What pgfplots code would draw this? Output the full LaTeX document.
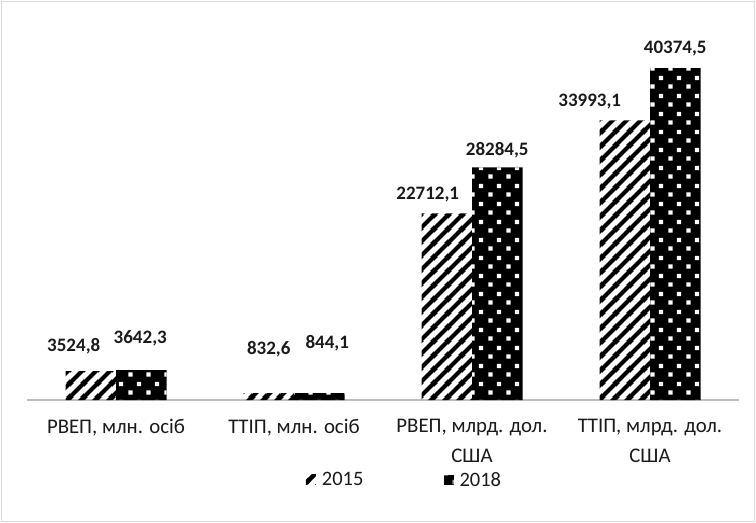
\documentclass[border=0pt]{standalone}
\usepackage{pgfplots}
\pgfplotsset{compat=1.18}
\usepackage{pgfplotstable}
\usepackage{fontspec}
\setmainfont{Carlito}
\usetikzlibrary{patterns}

\pgfdeclarepatternformonly{stripesA}{\pgfpointorigin}{\pgfqpoint{14bp}{14bp}}{\pgfqpoint{14bp}{14bp}}{%
  \pgfsetlinewidth{4.4bp}%
  \pgfpathmoveto{\pgfqpoint{-3bp}{-3bp}}\pgfpathlineto{\pgfqpoint{17bp}{17bp}}%
  \pgfpathmoveto{\pgfqpoint{-3bp}{11bp}}\pgfpathlineto{\pgfqpoint{3bp}{17bp}}%
  \pgfpathmoveto{\pgfqpoint{11bp}{-3bp}}\pgfpathlineto{\pgfqpoint{17bp}{3bp}}%
  \pgfusepath{stroke}}

\pgfdeclarepatternformonly{squaresB}{\pgfpointorigin}{\pgfqpoint{18bp}{18bp}}{\pgfqpoint{18bp}{18bp}}{%
  \pgfpathrectangle{\pgfqpoint{2.5bp}{2.5bp}}{\pgfqpoint{4.5bp}{4.5bp}}%
  \pgfpathrectangle{\pgfqpoint{11.5bp}{11.5bp}}{\pgfqpoint{4.5bp}{4.5bp}}%
  \pgfusepath{fill}}

\definecolor{framegray}{HTML}{D9D9D9}
\definecolor{axisgray}{HTML}{BFBFBF}
\definecolor{txt}{HTML}{1A1A1A}

\pgfplotstableread{
x y dx dy
0 3524.8 -17 25
1 832.6 0 44
2 22712.1 -19 19
3 33993.1 -35 19
}\dataA
\pgfplotstableread{
x y dx dy
0 3642.3 -1 32
1 844.1 8 50
2 28284.5 0 17
3 40374.5 0 19
}\dataB

\begin{document}
\begin{tikzpicture}
\path[use as bounding box] (0,0) rectangle (756bp,523bp);
\draw[framegray, line width=1.2bp] (1.5bp,1.5bp) rectangle (754.5bp,521.5bp);
\begin{axis}[
  at={(27bp,123bp)}, anchor=south west,
  width=712bp, height=370bp, scale only axis,
  xmin=-0.5, xmax=3.5, ymin=0, ymax=45000,
  ybar=0pt, bar width=50.5bp,
  axis x line*=bottom, axis y line=none,
  x axis line style={axisgray, line width=1.2bp, -},
  xtick=data,
  xticklabels={{РВЕП, млн. осіб},{ТТІП, млн. осіб},{РВЕП, млрд. дол.\\США},{ТТІП, млрд. дол.\\США}},
  major tick length=0pt,
  xticklabel style={font=\fontsize{20.8bp}{30bp}\selectfont, text=txt, align=center, anchor=north, yshift=-16bp},
  clip=false,
  /pgf/number format/.cd, use comma, 1000 sep={}, fixed, fixed zerofill, precision=1, assume math mode=true,
  /pgfplots/.cd,
  nodes near coords,
  visualization depends on={\thisrow{dx} \as \dx},
  visualization depends on={\thisrow{dy} \as \dy},
  nodes near coords style={font=\fontsize{19bp}{22bp}\selectfont\bfseries, text=txt, anchor=center, xshift=\dx bp, yshift=\dy bp, inner sep=0pt},
  legend style={at={(0.5288,-0.216)}, anchor=center, legend columns=2, draw=none, fill=none,
    font=\fontsize{20.5bp}{24bp}\selectfont, text=txt,
    nodes={inner xsep=0pt},
    /tikz/every odd column/.append style={column sep=6bp},
    /tikz/every even column/.append style={column sep=80bp}},
  legend image code/.code={\path[#1,draw=none] (0bp,-5bp) rectangle (10bp,5bp);},
]
\addplot[draw=none, pattern=stripesA, pattern color=black] table[x=x,y=y] {\dataA};
\addplot[draw=none, fill=black, postaction={pattern=squaresB, pattern color=white}] table[x=x,y=y] {\dataB};
\legend{2015,2018}
\end{axis}
\end{tikzpicture}
\end{document}
